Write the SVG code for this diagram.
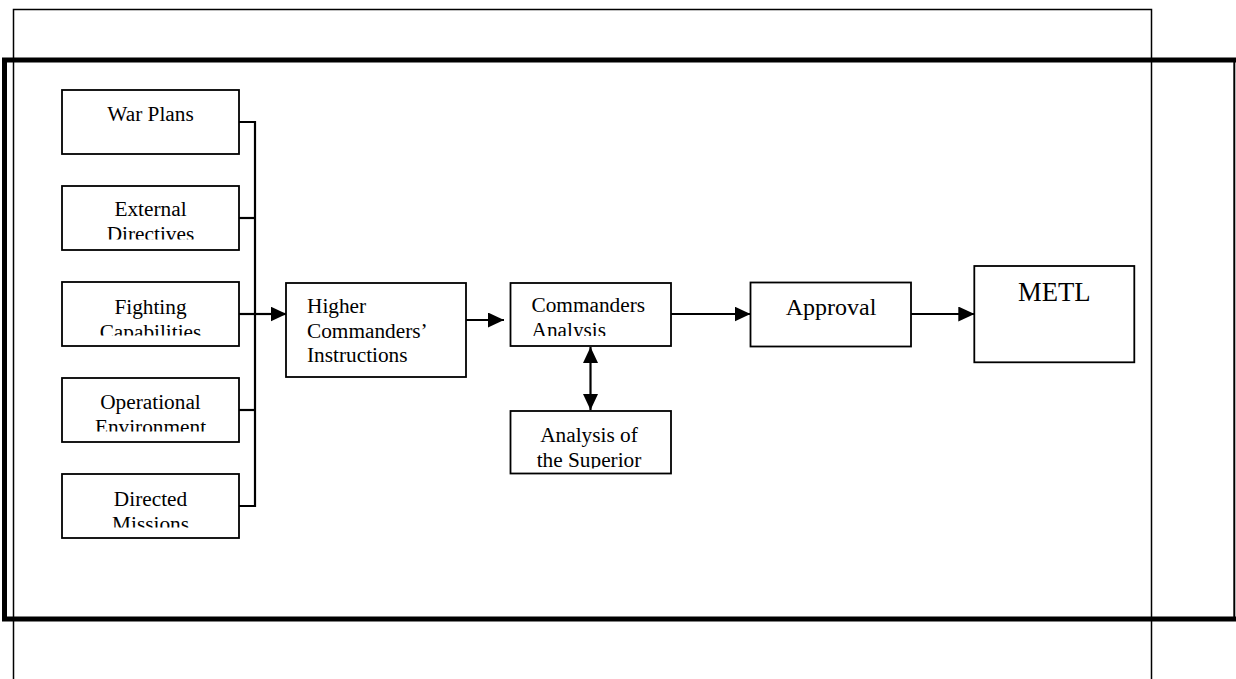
<svg xmlns="http://www.w3.org/2000/svg" width="1236" height="679" viewBox="0 0 1236 679">
  <style>
    .box { fill: #fff; stroke: #000; stroke-width: 1.8; }
    .frame { fill: none; stroke: #000; }
    .link { fill: none; stroke: #000; stroke-width: 2.2; }
    .t { font-family: "Liberation Serif", "Times New Roman", serif; font-size: 21.3px; fill: #000; }
    .c { text-anchor: middle; }
  </style>
  <defs>
    <marker id="arrow" markerUnits="userSpaceOnUse" markerWidth="16" markerHeight="15" refX="16" refY="7.5" orient="auto-start-reverse">
      <path d="M0,0 L16,7.5 L0,15 Z" fill="#000"/>
    </marker>
    <clipPath id="clip-external"><rect x="62" y="186" width="177" height="53.5"/></clipPath>
    <clipPath id="clip-fighting"><rect x="62" y="282" width="177" height="53.5"/></clipPath>
    <clipPath id="clip-operational"><rect x="62" y="378" width="177" height="53.5"/></clipPath>
    <clipPath id="clip-directed"><rect x="62" y="474" width="177" height="53.5"/></clipPath>
    <clipPath id="clip-analysis"><rect x="510" y="283" width="161" height="53"/></clipPath>
    <clipPath id="clip-superior"><rect x="510" y="411" width="161" height="57.5"/></clipPath>
  </defs>

  <rect width="1236" height="679" fill="#fff"/>

  <!-- page frames -->
  <g id="frames">
    <path class="frame" stroke-width="1.5" d="M13.5,679 V9.5 H1151.5 V679"/>
    <path class="frame" stroke-width="5" d="M1236,60 H4.5 V619 H1236"/>
    <line x1="1234.3" y1="60" x2="1234.3" y2="619" stroke="#000" stroke-width="2"/>
  </g>

  <!-- connectors -->
  <g id="connectors">
    <path class="link" d="M239,122 H255 V506 H239"/>
    <path class="link" d="M239,218 H255"/>
    <path class="link" d="M239,314 H255"/>
    <path class="link" d="M239,410 H255"/>
    <path class="link" d="M255,314 H286.5" marker-end="url(#arrow)"/>
    <path class="link" d="M466,320 H504" marker-end="url(#arrow)"/>
    <path class="link" d="M590.5,347 V410" marker-start="url(#arrow)" marker-end="url(#arrow)"/>
    <path class="link" d="M671,314 H750.5" marker-end="url(#arrow)"/>
    <path class="link" d="M911,314 H974.3" marker-end="url(#arrow)"/>
  </g>

  <g id="war-plans">
    <rect class="box" x="62" y="90" width="177" height="64"/>
    <text class="t c" x="150.5" y="121">War Plans</text>
  </g>

  <g id="external-directives">
    <rect class="box" x="62" y="186" width="177" height="64"/>
    <g clip-path="url(#clip-external)">
      <text class="t c" x="150.5" y="215.5">External</text>
      <text class="t c" x="150.5" y="240.5">Directives</text>
    </g>
  </g>

  <g id="fighting-capabilities">
    <rect class="box" x="62" y="282" width="177" height="64"/>
    <g clip-path="url(#clip-fighting)">
      <text class="t c" x="150.5" y="313.5">Fighting</text>
      <text class="t c" x="150.5" y="338.5">Capabilities</text>
    </g>
  </g>

  <g id="operational-environment">
    <rect class="box" x="62" y="378" width="177" height="64"/>
    <g clip-path="url(#clip-operational)">
      <text class="t c" x="150.5" y="409">Operational</text>
      <text class="t c" x="150.5" y="434">Environment</text>
    </g>
  </g>

  <g id="directed-missions">
    <rect class="box" x="62" y="474" width="177" height="64"/>
    <g clip-path="url(#clip-directed)">
      <text class="t c" x="150.5" y="505.5">Directed</text>
      <text class="t c" x="150.5" y="530.5">Missions</text>
    </g>
  </g>

  <g id="higher-commanders-instructions">
    <rect class="box" x="286" y="283" width="180" height="94"/>
    <text class="t" x="307" y="312.7">Higher</text>
    <text class="t" x="307" y="337.7">Commanders’</text>
    <text class="t" x="307" y="362.3">Instructions</text>
  </g>

  <g id="commanders-analysis">
    <rect class="box" x="510.5" y="283" width="160.5" height="63"/>
    <g clip-path="url(#clip-analysis)">
      <text class="t" x="531.5" y="311.7">Commanders</text>
      <text class="t" x="531.5" y="337">Analysis</text>
    </g>
  </g>

  <g id="analysis-of-superior">
    <rect class="box" x="510.5" y="411" width="160.5" height="62.5"/>
    <g clip-path="url(#clip-superior)">
      <text class="t c" x="589" y="441.7">Analysis of</text>
      <text class="t c" x="589" y="467">the Superior</text>
    </g>
  </g>

  <g id="approval">
    <rect class="box" x="750.5" y="282.5" width="160.5" height="64"/>
    <text class="t c" x="831" y="315" style="font-size:24px">Approval</text>
  </g>

  <g id="metl">
    <rect class="box" x="974.3" y="266" width="160" height="96.3"/>
    <text class="t c" x="1054.3" y="301.3" style="font-size:26.7px">METL</text>
  </g>
</svg>
